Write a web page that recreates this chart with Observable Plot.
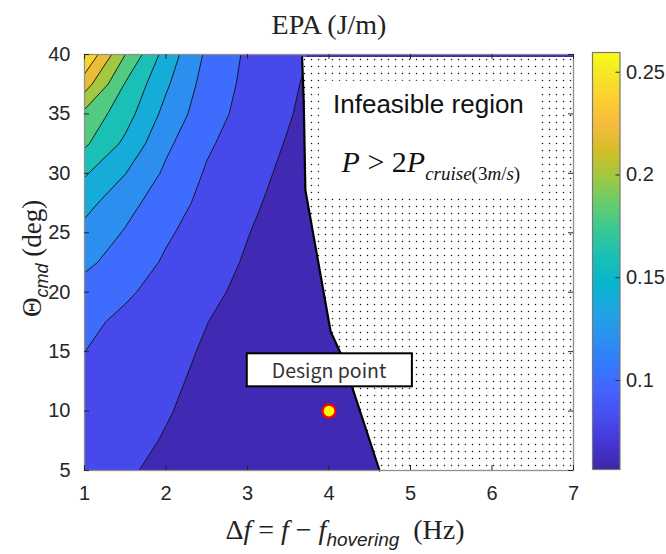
<!DOCTYPE html>
<html><head><meta charset="utf-8">
<script src="https://cdn.jsdelivr.net/npm/d3@7"></script>
<script src="https://cdn.jsdelivr.net/npm/@observablehq/plot@0.6"></script>
<style>
body{margin:0;background:#fff;}
#chart{position:relative;width:666px;height:554px;}
#chart svg{position:absolute;left:0;top:0;overflow:visible;}
</style></head><body><div id="chart"></div>
<script>
// ---------- data ----------
const xDomain = [1, 7];
const yDomain = [5, 40];
const xTicks = [1, 2, 3, 4, 5, 6, 7];
const yTicks = [5, 10, 15, 20, 25, 30, 35, 40];
const cbTicks = [0.1, 0.15, 0.2, 0.25];
const colorDomain = [0.0567, 0.2596];
const levels = [0.06, 0.08, 0.10, 0.12, 0.14, 0.16, 0.18, 0.20, 0.22, 0.24];

// EPA grid: columns x = 1, 1.5, ..., 7 ; rows y = 40, 37.5, ..., 5 (top to bottom)
const gridX = [1, 1.5, 2, 2.5, 3, 3.5, 4, 4.5, 5, 5.5, 6, 6.5, 7];
const gridY = [40, 37.5, 35, 32.5, 30, 27.5, 25, 22.5, 20, 17.5, 15, 12.5, 10, 7.5, 5];
const epaRows = [
  [0.2600, 0.2000, 0.1517, 0.1165, 0.0968, 0.0857, 0.0743, 0.0705, 0.0675, 0.0652, 0.0635, 0.0622, 0.0612], // 40
  [0.2294, 0.1786, 0.1430, 0.1119, 0.0954, 0.0834, 0.0713, 0.0680, 0.0657, 0.0640, 0.0628, 0.0618, 0.0610], // 37.5
  [0.1950, 0.1684, 0.1338, 0.1081, 0.0933, 0.0814, 0.0697, 0.0668, 0.0650, 0.0636, 0.0625, 0.0616, 0.0609], // 35
  [0.1833, 0.1558, 0.1240, 0.1027, 0.0901, 0.0786, 0.0715, 0.0675, 0.0652, 0.0637, 0.0625, 0.0616, 0.0609], // 32.5
  [0.1622, 0.1404, 0.1164, 0.0980, 0.0869, 0.0758, 0.0700, 0.0668, 0.0648, 0.0634, 0.0624, 0.0615, 0.0608], // 30
  [0.1464, 0.1270, 0.1088, 0.0946, 0.0839, 0.0731, 0.0688, 0.0662, 0.0645, 0.0632, 0.0622, 0.0614, 0.0608], // 27.5
  [0.1343, 0.1184, 0.1025, 0.0912, 0.0806, 0.0715, 0.0678, 0.0655, 0.0640, 0.0629, 0.0620, 0.0613, 0.0607], // 25
  [0.1244, 0.1106, 0.0976, 0.0878, 0.0781, 0.0718, 0.0678, 0.0653, 0.0638, 0.0627, 0.0619, 0.0612, 0.0607], // 22.5
  [0.1116, 0.1025, 0.0935, 0.0844, 0.0752, 0.0700, 0.0668, 0.0648, 0.0635, 0.0625, 0.0618, 0.0612, 0.0607], // 20
  [0.1041, 0.0962, 0.0883, 0.0803, 0.0728, 0.0690, 0.0663, 0.0645, 0.0633, 0.0624, 0.0617, 0.0611, 0.0606], // 17.5
  [0.1001, 0.0928, 0.0854, 0.0781, 0.0735, 0.0695, 0.0667, 0.0648, 0.0635, 0.0625, 0.0618, 0.0612, 0.0606], // 15
  [0.0964, 0.0897, 0.0831, 0.0764, 0.0725, 0.0690, 0.0664, 0.0646, 0.0633, 0.0624, 0.0617, 0.0611, 0.0606], // 12.5
  [0.0942, 0.0877, 0.0812, 0.0745, 0.0712, 0.0684, 0.0661, 0.0644, 0.0632, 0.0623, 0.0616, 0.0611, 0.0606], // 10
  [0.0913, 0.0850, 0.0788, 0.0745, 0.0712, 0.0684, 0.0661, 0.0644, 0.0632, 0.0623, 0.0616, 0.0610, 0.0605], // 7.5
  [0.0880, 0.0820, 0.0761, 0.0730, 0.0703, 0.0680, 0.0660, 0.0643, 0.0631, 0.0622, 0.0615, 0.0610, 0.0605]  // 5
];

// infeasible-region boundary (P > 2 P_cruise)
const boundaryX = [3.67, 3.69, 3.71, 4.02, 4.16, 4.62];
const boundaryY = [39.75, 36.0, 28.6, 16.7, 14.6, 5.0];

const designPoint = [{x: 4, y: 10, label: "Design point"}];
const regionNotes = [{x: 5.22, y: 35.8, text: "Infeasible region"}];
const formulaNotes = [{x: 5.25, y: 30.9, text: "P > 2P cruise(3m/s)"}];

const titleText = "EPA (J/m)";
const xLabelText = "Δf = f − f hovering (Hz)";
const yLabelText = "Θ cmd (deg)";

// parula colormap stops
const parulaStops = [0, 4, 8, 12, 16, 20, 24, 28, 32, 36, 40, 44, 48, 52, 56, 60, 63].map(i => i / 63);
const parulaColors = ["#3e26a8","#4537d5","#484df0","#4563fd","#327cfc","#2b91ef","#20a5e3","#08b5d0",
  "#19bfb6","#37c897","#64cd6f","#9dc943","#d1bf27","#f8ba3d","#fccf30","#f5e924","#f9fb15"];
const parulaScale = d3.scaleLinear().domain(parulaStops).range(parulaColors).interpolate(d3.interpolateRgb).clamp(true);

// ---------- build ----------
const W = 666, H = 554;
const mL = 84, mR = 93, mT = 54, mB = 84;
const fw = W - mL - mR, fh = H - mT - mB;
const dx = (gridX[1] - gridX[0]), dyg = (gridY[0] - gridY[1]);
const flat = epaRows.slice().reverse().flat();
const boundary = boundaryX.map((x, i) => ({x, y: boundaryY[i]}));
const sans = "'Liberation Sans', Arial, Helvetica, sans-serif";
const serif = "'Liberation Serif', 'Times New Roman', Times, serif";
const ink = "#262626";
const tickLen = 5;
const tickFont = 20;

const main = Plot.plot({
  width: W, height: H,
  marginLeft: mL, marginRight: mR, marginTop: mT, marginBottom: mB,
  x: {domain: xDomain, axis: null},
  y: {domain: yDomain, axis: null},
  color: {type: "linear", domain: colorDomain, interpolate: t => parulaScale(t)},
  style: {fontFamily: sans, fontSize: tickFont + "px", color: ink, background: "transparent", overflow: "visible"},
  marks: [
    Plot.contour(flat, {
      x1: gridX[0] - dx / 2, x2: gridX[gridX.length - 1] + dx / 2,
      y1: gridY[gridY.length - 1] - dyg / 2, y2: gridY[0] + dyg / 2,
      width: gridX.length, height: gridY.length,
      thresholds: levels, fill: Plot.identity, stroke: "#111", strokeWidth: 0.9, clip: true
    }),
    Plot.areaX(boundary, {y: "y", x1: "x", x2: xDomain[1], fill: "url(#dots)", curve: "linear"}),
    Plot.line(boundary, {x: "x", y: "y", stroke: "#000", strokeWidth: 2.2}),
    Plot.frame({stroke: "#8f8f8f", strokeWidth: 1.3}),
    Plot.ruleX(xTicks, {insetTop: fh - tickLen, stroke: ink}),
    Plot.ruleX(xTicks, {insetBottom: fh - tickLen, stroke: ink}),
    Plot.ruleY(yTicks, {insetRight: fw - tickLen, stroke: ink}),
    Plot.ruleY(yTicks, {insetLeft: fw - tickLen, stroke: ink}),
    Plot.text(xTicks, {x: d => d, frameAnchor: "bottom", lineAnchor: "middle", dy: 23, text: d => String(d), fontSize: tickFont, fontFamily: sans, fill: ink}),
    Plot.text(yTicks, {y: d => d, frameAnchor: "left", textAnchor: "end", lineAnchor: "middle", dx: -14, text: d => String(d), fontSize: tickFont, fontFamily: sans, fill: ink}),
    Plot.text(regionNotes, {x: "x", y: "y", text: "text", fontSize: 26, fontFamily: sans, fill: "#111", className: "note-region"}),
    Plot.text(formulaNotes, {x: "x", y: "y", text: "text", fontSize: 30, fontFamily: serif, fill: "#111", className: "note-formula"}),
    Plot.dot(designPoint, {x: "x", y: "y", r: 6.5, fill: "#ffff00", stroke: "#ff0000", strokeWidth: 2.3}),
    Plot.text(designPoint, {x: "x", y: "y", text: "label", dy: -39, fontSize: 19.5, fontFamily: "'Noto Sans CJK KR', 'Noto Sans', sans-serif", fill: "#333", className: "dp-label"}),
    Plot.text([titleText], {frameAnchor: "top", lineAnchor: "middle", textAnchor: "middle", dy: -29, fontSize: 28, fontFamily: serif, fill: "#222", className: "title"}),
    Plot.text([xLabelText], {frameAnchor: "bottom", lineAnchor: "middle", textAnchor: "middle", dx: 16, dy: 60, fontSize: 28, fontFamily: serif, fill: "#222", className: "xlabel"}),
    Plot.text([yLabelText], {frameAnchor: "left", lineAnchor: "middle", textAnchor: "middle", rotate: -90, dx: -52, dy: -4, fontSize: 27, fontFamily: serif, fill: "#222", className: "ylabel"})
  ]
});

const cbL = 592, cbR = 619.5, cbT = 52, cbB = 469;
const cb = Plot.plot({
  width: W, height: H,
  marginLeft: cbL, marginRight: W - cbR, marginTop: cbT, marginBottom: H - cbB,
  x: {domain: [0, 1], axis: null},
  y: {domain: colorDomain, axis: null},
  color: {type: "linear", domain: colorDomain, interpolate: t => parulaScale(t)},
  style: {fontFamily: sans, fontSize: tickFont + "px", color: ink, background: "transparent", overflow: "visible"},
  marks: [
    Plot.raster({x1: 0, x2: 1, y1: colorDomain[0], y2: colorDomain[1], width: 1, height: 400, fill: (x, y) => y}),
    Plot.frame({stroke: "#777", strokeWidth: 1.2}),
    Plot.ruleY(cbTicks, {insetLeft: (cbR - cbL) - 4, stroke: ink}),
    Plot.text(cbTicks, {y: d => d, frameAnchor: "right", textAnchor: "start", lineAnchor: "middle", dx: 6, text: d => String(d), fontSize: tickFont, fontFamily: sans, fill: ink})
  ]
});

const host = document.getElementById("chart");
host.appendChild(main);
host.appendChild(cb);

// dot pattern for the infeasible region
const defs = d3.select(main).insert("defs", ":first-child");
const pat = defs.append("pattern").attr("id", "dots").attr("patternUnits", "userSpaceOnUse")
  .attr("width", 7).attr("height", 7);
pat.append("rect").attr("width", 7).attr("height", 7).attr("fill", "#fff");
pat.append("circle").attr("cx", 3.5).attr("cy", 3.5).attr("r", 0.75).attr("fill", "#111");

// rich text (sub/italic)
function setRich(cls, html) {
  main.querySelectorAll("g." + cls + " text").forEach(t => { t.innerHTML = html; });
}
setRich("note-formula",
  `<tspan font-style="italic">P</tspan><tspan> &gt; 2</tspan><tspan font-style="italic">P</tspan>` +
  `<tspan dy="8" font-size="19" font-style="italic">cruise</tspan><tspan font-size="19">(3</tspan>` +
  `<tspan font-size="19" font-style="italic">m</tspan><tspan font-size="19">/</tspan>` +
  `<tspan font-size="19" font-style="italic">s</tspan><tspan font-size="19">)</tspan>`);
setRich("xlabel",
  `<tspan>Δ</tspan><tspan font-style="italic">f</tspan><tspan> = </tspan><tspan font-style="italic">f</tspan>` +
  `<tspan> − </tspan><tspan font-style="italic">f</tspan>` +
  `<tspan dy="7" font-size="19" font-style="italic" font-family="${sans}">hovering</tspan>` +
  `<tspan dy="-7" xml:space="preserve">  (Hz)</tspan>`);
setRich("ylabel",
  `<tspan>Θ</tspan><tspan dy="7" font-size="18" font-style="italic" font-family="${sans}">cmd</tspan>` +
  `<tspan dy="-7"> (deg)</tspan>`);

// boxes behind annotation texts
function boxBehind(selectors, padX, padY, fill, stroke, sw) {
  const base = main.getBoundingClientRect();
  let x0 = Infinity, y0 = Infinity, x1 = -Infinity, y1 = -Infinity, first = null;
  selectors.forEach(sel => {
    const g = main.querySelector(sel);
    if (!first) first = g;
    g.querySelectorAll("text").forEach(t => {
      const b = t.getBoundingClientRect();
      x0 = Math.min(x0, b.left - base.left); y0 = Math.min(y0, b.top - base.top);
      x1 = Math.max(x1, b.right - base.left); y1 = Math.max(y1, b.bottom - base.top);
    });
  });
  const r = document.createElementNS("http://www.w3.org/2000/svg", "rect");
  r.setAttribute("x", x0 - padX); r.setAttribute("y", y0 - padY);
  r.setAttribute("width", x1 - x0 + 2 * padX); r.setAttribute("height", y1 - y0 + 2 * padY);
  r.setAttribute("fill", fill);
  if (stroke) { r.setAttribute("stroke", stroke); r.setAttribute("stroke-width", sw); }
  main.insertBefore(r, first);
}
boxBehind(["g.note-region", "g.note-formula"], 14, 8, "#fff", null, 0);
boxBehind(["g.dp-label"], 25, 2, "#fff", "#000", 2);
</script>
</body></html>
